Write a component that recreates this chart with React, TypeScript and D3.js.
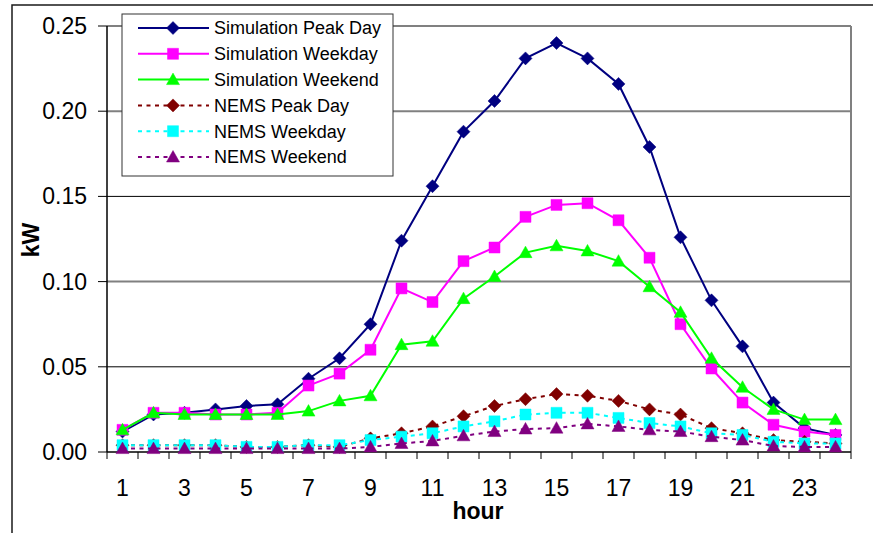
import React from "react";
import * as d3 from "d3";

const hours = d3.range(1, 25);
const xTickLabels = ["1", "3", "5", "7", "9", "11", "13", "15", "17", "19", "21", "23"];
const yTicks = [0, 0.05, 0.1, 0.15, 0.2, 0.25];

const simPeak = [0.012, 0.022, 0.023, 0.025, 0.027, 0.028, 0.043, 0.055, 0.075, 0.124, 0.156, 0.188, 0.206, 0.231, 0.240, 0.231, 0.216, 0.179, 0.126, 0.089, 0.062, 0.029, 0.014, 0.010];
const simWeekday = [0.013, 0.023, 0.023, 0.022, 0.022, 0.023, 0.039, 0.046, 0.060, 0.096, 0.088, 0.112, 0.120, 0.138, 0.145, 0.146, 0.136, 0.114, 0.075, 0.049, 0.029, 0.016, 0.012, 0.010];
const simWeekend = [0.013, 0.023, 0.022, 0.022, 0.022, 0.022, 0.024, 0.030, 0.033, 0.063, 0.065, 0.090, 0.103, 0.117, 0.121, 0.118, 0.112, 0.097, 0.082, 0.055, 0.038, 0.025, 0.019, 0.019];
const nemsPeak = [0.004, 0.004, 0.004, 0.004, 0.003, 0.003, 0.004, 0.003, 0.008, 0.011, 0.015, 0.021, 0.027, 0.031, 0.034, 0.033, 0.030, 0.025, 0.022, 0.014, 0.011, 0.007, 0.006, 0.005];
const nemsWeekday = [0.004, 0.004, 0.004, 0.004, 0.003, 0.003, 0.004, 0.004, 0.007, 0.009, 0.011, 0.015, 0.018, 0.022, 0.023, 0.023, 0.020, 0.017, 0.015, 0.011, 0.010, 0.006, 0.005, 0.005];
const nemsWeekend = [0.002, 0.002, 0.002, 0.002, 0.002, 0.002, 0.002, 0.002, 0.003, 0.005, 0.0065, 0.0095, 0.012, 0.0135, 0.014, 0.0165, 0.015, 0.013, 0.012, 0.009, 0.007, 0.0035, 0.003, 0.003];

const seriesNames = ["Simulation Peak Day", "Simulation Weekday", "Simulation Weekend", "NEMS Peak Day", "NEMS Weekday", "NEMS Weekend"];
const seriesValues = [simPeak, simWeekday, simWeekend, nemsPeak, nemsWeekday, nemsWeekend];
const seriesColors = ["#000080", "#FF00FF", "#00FF00", "#800000", "#00FFFF", "#800080"];
const seriesMarkers = ["diamond", "square", "triangle", "diamond", "square", "triangle"];
const seriesDashed = [false, false, false, true, true, true];

const W = 873;
const H = 533;
const left = 107;
const right = 851;
const top = 26;
const bottom = 452;

function markerPath(kind: string) {
  if (kind === "diamond") return "M0,-6.5L6.5,0L0,6.5L-6.5,0Z";
  if (kind === "square") return "M-5.5,-5.5L5.5,-5.5L5.5,5.5L-5.5,5.5Z";
  return "M0,-6.5L6.5,5L-6.5,5Z";
}

export default function App() {
  const x = d3.scaleBand<number>().domain(hours).range([left, right]).padding(0);
  const y = d3.scaleLinear().domain([0, 0.25]).range([bottom, top]);
  const cx = (h: number) => (x(h) as number) + x.bandwidth() / 2;
  const line = d3
    .line<number>()
    .x((_, i) => cx(hours[i]))
    .y((d) => y(d));

  const gridStyle = (v: number) =>
    Math.round(v * 100) % 10 === 5 && v !== 0.25
      ? { stroke: "#000", w: 1 }
      : { stroke: "#808080", w: 2 };

  const font = "'Liberation Sans', Arial, sans-serif";
  const legX = 122;
  const legY = 14;
  const legRow = (i: number) => 28 + i * 25.8;

  return (
    <svg width={W} height={H} style={{ position: "absolute", left: 0, top: 0, background: "#fff" }} fontFamily={font}>
      <rect x={0} y={0} width={W} height={H} fill="#fff" />
      <rect x={12} y={5} width={900} height={600} fill="none" stroke="#1a1a1a" strokeWidth={1.5} />
      {/* gridlines */}
      {yTicks.filter((v) => v > 0).map((v) => {
        const s = gridStyle(v);
        return <line key={v} x1={left} x2={right} y1={y(v)} y2={y(v)} stroke={s.stroke} strokeWidth={s.w} />;
      })}
      {/* right border of plot */}
      <line x1={right} x2={right} y1={top} y2={bottom} stroke="#808080" strokeWidth={2} />
      {/* y axis */}
      <line x1={left} x2={left} y1={top} y2={bottom} stroke="#000" strokeWidth={1.5} />
      {yTicks.map((v) => (
        <g key={v}>
          <line x1={left - 9} x2={left} y1={y(v)} y2={y(v)} stroke="#000" strokeWidth={1} />
          <text x={87} y={y(v)} dy="0.35em" textAnchor="end" fontSize={23} fill="#000">
            {v.toFixed(2)}
          </text>
        </g>
      ))}
      {/* x axis */}
      <line x1={left} x2={right} y1={bottom} y2={bottom} stroke="#000" strokeWidth={1.5} />
      {d3.range(0, 25).map((i) => {
        const xx = left + i * x.bandwidth();
        return <line key={i} x1={xx} x2={xx} y1={bottom} y2={bottom + 7} stroke="#000" strokeWidth={1} />;
      })}
      {xTickLabels.map((t) => (
        <text key={t} x={cx(+t)} y={496} textAnchor="middle" fontSize={23} fill="#000">
          {t}
        </text>
      ))}
      <text x={478} y={519} textAnchor="middle" fontSize={23} fontWeight="bold" fill="#000">
        hour
      </text>
      <text transform="translate(39,240) rotate(-90)" textAnchor="middle" fontSize={23} fontWeight="bold" fill="#000">
        kW
      </text>
      {/* series */}
      {seriesValues.map((vals, si) => (
        <g key={si}>
          <path
            d={line(vals) || ""}
            fill="none"
            stroke={seriesColors[si]}
            strokeWidth={2}
            strokeDasharray={seriesDashed[si] ? "4,4.5" : undefined}
          />
          {vals.map((v, i) => (
            <path
              key={i}
              d={markerPath(seriesMarkers[si])}
              transform={`translate(${cx(hours[i])},${y(v)})`}
              fill={seriesColors[si]}
              stroke={seriesColors[si]}
              strokeWidth={0.5}
            />
          ))}
        </g>
      ))}
      {/* legend */}
      <rect x={legX} y={legY} width={271} height={162} fill="#fff" stroke="#333" strokeWidth={1} />
      {seriesNames.map((n, i) => (
        <g key={n}>
          <line
            x1={138}
            x2={209}
            y1={legRow(i)}
            y2={legRow(i)}
            stroke={seriesColors[i]}
            strokeWidth={2}
            strokeDasharray={seriesDashed[i] ? "4,4.5" : undefined}
          />
          <path
            d={markerPath(seriesMarkers[i])}
            transform={`translate(173,${legRow(i)})`}
            fill={seriesColors[i]}
            stroke={seriesColors[i]}
            strokeWidth={0.5}
          />
          <text x={214} y={legRow(i)} dy="0.35em" fontSize={18} fill="#000">
            {n}
          </text>
        </g>
      ))}
    </svg>
  );
}
